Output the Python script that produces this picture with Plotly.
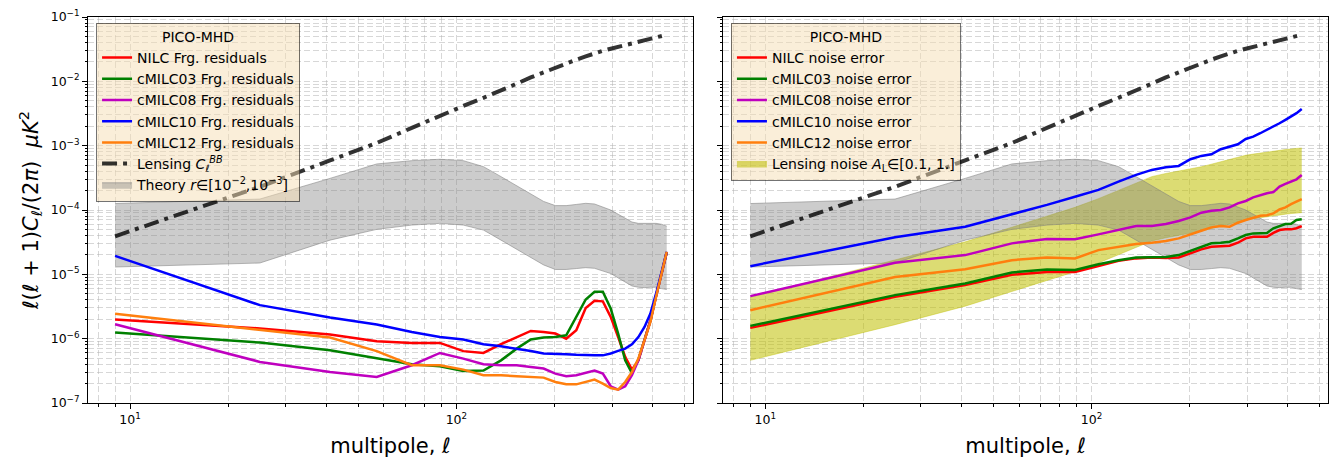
import plotly.graph_objects as go
from plotly.subplots import make_subplots

# binned multipoles
ell = [9, 25, 41, 57, 73, 89, 105, 121, 137, 153, 169, 185, 201, 217,
       233, 249, 265, 281, 297, 313, 329, 345, 361, 377, 393, 409, 425, 441]

lensing_bb = [3.9e-5, 2.3e-4, 5.9e-4, 1.1e-3, 1.89e-3, 2.84e-3, 4.14e-3, 5.55e-3, 7.16e-3, 9.18e-3,
              1.15e-2, 1.39e-2, 1.64e-2, 1.92e-2, 2.17e-2, 2.44e-2, 2.73e-2, 2.99e-2, 3.21e-2, 3.43e-2,
              3.66e-2, 3.88e-2, 4.11e-2, 4.35e-2, 4.57e-2, 4.81e-2, 5.05e-2, 5.3e-2]

# theory band r in [1e-3, 1e-2]
theory_hi = [1.26e-4, 1.48e-4, 3.1e-4, 5.2e-4, 5.85e-4, 6.15e-4, 5.85e-4, 4.72e-4, 3.3e-4, 2.39e-4,
             1.75e-4, 1.36e-4, 1.17e-4, 1.17e-4, 1.22e-4, 1.27e-4, 1.24e-4, 1.1e-4, 1.0e-4, 8.6e-5,
             7.4e-5, 6.5e-5, 6.2e-5, 6.2e-5, 6.3e-5, 6.2e-5, 6.0e-5, 5.6e-5]
theory_lo = [1.3e-5, 1.5e-5, 3.4e-5, 5.0e-5, 5.83e-5, 6.2e-5, 5.83e-5, 4.88e-5, 3.4e-5, 2.47e-5,
             1.8e-5, 1.4e-5, 1.19e-5, 1.19e-5, 1.23e-5, 1.27e-5, 1.24e-5, 1.12e-5, 1.03e-5, 8.8e-6,
             7.6e-6, 6.6e-6, 6.3e-6, 6.2e-6, 6.3e-6, 6.3e-6, 6.0e-6, 5.8e-6]

# foreground residuals (left)
nilc_fg = [1.99e-6, 1.44e-6, 1.16e-6, 9.1e-7, 8.6e-7, 8.6e-7, 6.4e-7, 6.0e-7, 8.2e-7, 1.06e-6,
           1.32e-6, 1.27e-6, 1.2e-6, 1.0e-6, 1.35e-6, 3.0e-6, 3.87e-6, 3.8e-6, 2.18e-6, 1.06e-6,
           5.2e-7, 3.3e-7, 4.6e-7, 9.5e-7, 1.9e-6, 4.6e-6, 1.03e-5, 2.2e-5]
cmilc03_fg = [1.25e-6, 8.7e-7, 6.6e-7, 4.9e-7, 4.0e-7, 3.72e-7, 3.15e-7, 3.2e-7, 4.6e-7, 7.0e-7,
              9.7e-7, 1.04e-6, 1.06e-6, 1.13e-6, 2.18e-6, 4.07e-6, 5.35e-6, 5.35e-6, 2.94e-6, 1.2e-6,
              4.6e-7, 2.9e-7, 4.7e-7, 9.5e-7, 1.9e-6, 4.6e-6, 1.03e-5, 2.2e-5]
cmilc08_fg = [1.68e-6, 4.35e-7, 3.03e-7, 2.54e-7, 3.86e-7, 6.0e-7, 4.9e-7, 4.0e-7, 3.85e-7, 3.85e-7,
              3.63e-7, 3.43e-7, 2.86e-7, 2.6e-7, 2.7e-7, 2.97e-7, 3.2e-7, 2.86e-7, 1.82e-7, 1.61e-7,
              1.82e-7, 2.7e-7, 4.6e-7, 9.5e-7, 1.9e-6, 4.6e-6, 1.03e-5, 2.2e-5]
cmilc10_fg = [1.94e-5, 3.32e-6, 2.13e-6, 1.66e-6, 1.27e-6, 1.06e-6, 9.7e-7, 8.2e-7, 7.6e-7, 7.0e-7,
              6.45e-7, 5.87e-7, 5.87e-7, 5.73e-7, 5.6e-7, 5.5e-7, 5.5e-7, 5.5e-7, 5.87e-7, 6.45e-7,
              7.0e-7, 8.2e-7, 1.06e-6, 1.52e-6, 2.46e-6, 5.0e-6, 1.03e-5, 2.24e-5]
cmilc12_fg = [2.43e-6, 1.35e-6, 1.04e-6, 6.4e-7, 3.86e-7, 3.86e-7, 3.3e-7, 2.7e-7, 2.7e-7, 2.6e-7,
              2.55e-7, 2.48e-7, 2.12e-7, 1.95e-7, 1.95e-7, 2.12e-7, 2.31e-7, 2.0e-7, 1.71e-7, 1.61e-7,
              2.12e-7, 3.03e-7, 4.9e-7, 9.5e-7, 1.82e-6, 4.47e-6, 1.03e-5, 2.24e-5]

# noise errors (right)
nilc_noise = [1.47e-6, 4.47e-6, 6.8e-6, 9.85e-6, 1.09e-5, 1.09e-5, 1.34e-5, 1.62e-5, 1.77e-5, 1.83e-5,
              1.8e-5, 1.83e-5, 2.12e-5, 2.44e-5, 2.69e-5, 2.75e-5, 2.78e-5, 3.1e-5, 3.62e-5, 3.84e-5,
              3.84e-5, 3.84e-5, 4.4e-5, 4.88e-5, 5.0e-5, 5.0e-5, 5.2e-5, 5.63e-5]
cmilc03_noise = [1.58e-6, 4.75e-6, 7.23e-6, 1.07e-5, 1.19e-5, 1.17e-5, 1.43e-5, 1.66e-5, 1.83e-5, 1.86e-5,
                 1.86e-5, 1.99e-5, 2.32e-5, 2.69e-5, 3.03e-5, 3.1e-5, 3.21e-5, 3.62e-5, 4.09e-5, 4.33e-5,
                 4.4e-5, 4.4e-5, 5.19e-5, 5.69e-5, 6.05e-5, 6.1e-5, 6.98e-5, 7.16e-5]
cmilc08_noise = [4.58e-6, 1.51e-5, 1.99e-5, 3.03e-5, 3.53e-5, 3.5e-5, 4.18e-5, 4.88e-5, 5.63e-5, 5.65e-5,
                 6.05e-5, 6.74e-5, 7.69e-5, 9.08e-5, 9.75e-5, 1.0e-4, 1.1e-4, 1.27e-4, 1.38e-4, 1.57e-4,
                 1.71e-4, 1.82e-4, 1.9e-4, 2.31e-4, 2.54e-4, 2.76e-4, 3.0e-4, 3.51e-4]
cmilc10_noise = [1.34e-5, 3.76e-5, 5.5e-5, 8.57e-5, 1.2e-4, 1.61e-4, 2.05e-4, 2.76e-4, 3.51e-4, 4.2e-4,
                 4.62e-4, 4.84e-4, 6.15e-4, 6.93e-4, 7.36e-4, 8.81e-4, 9.66e-4, 1.05e-3, 1.27e-3, 1.38e-3,
                 1.56e-3, 1.76e-3, 1.94e-3, 2.23e-3, 2.52e-3, 2.83e-3, 3.2e-3, 3.7e-3]
cmilc12_noise = [2.77e-6, 9.1e-6, 1.2e-5, 1.66e-5, 1.83e-5, 1.77e-5, 2.38e-5, 2.69e-5, 2.95e-5, 3.1e-5,
                 3.29e-5, 3.62e-5, 4.23e-5, 4.76e-5, 5.37e-5, 5.63e-5, 5.5e-5, 6.34e-5, 6.98e-5, 7.59e-5,
                 8.15e-5, 8.3e-5, 8.87e-5, 1.02e-4, 1.1e-4, 1.23e-4, 1.35e-4, 1.47e-4]

# lensing noise band A_L in [0.1, 1]
lens_noise_hi = [4.4e-6, 1.7e-5, 3.2e-5, 5.4e-5, 8.0e-5, 1.1e-4, 1.5e-4, 2.0e-4, 2.6e-4, 3.3e-4,
                 3.7e-4, 4.0e-4, 4.35e-4, 4.7e-4, 5.15e-4, 5.6e-4, 6.2e-4, 6.7e-4, 7.1e-4, 7.4e-4,
                 7.7e-4, 8.0e-4, 8.3e-4, 8.5e-4, 8.7e-4, 8.9e-4, 9.0e-4, 9.2e-4]
lens_noise_lo = [4.6e-7, 1.65e-6, 3.2e-6, 5.4e-6, 8.0e-6, 1.1e-5, 1.5e-5, 2.0e-5, 2.6e-5, 3.3e-5,
                 3.7e-5, 4.0e-5, 4.35e-5, 4.7e-5, 5.15e-5, 5.6e-5, 6.2e-5, 6.6e-5, 7.0e-5, 7.3e-5,
                 7.6e-5, 7.9e-5, 8.2e-5, 8.4e-5, 8.6e-5, 8.8e-5, 8.9e-5, 9.1e-5]

methods = ["NILC", "cMILC03", "cMILC08", "cMILC10", "cMILC12"]
colors = ["#ff0000", "#008000", "#bf00bf", "#0000ff", "#ff7f0e"]
fg_series = [nilc_fg, cmilc03_fg, cmilc08_fg, cmilc10_fg, cmilc12_fg]
noise_series = [nilc_noise, cmilc03_noise, cmilc08_noise, cmilc10_noise, cmilc12_noise]

FONT = "DejaVu Sans"
GRID = "rgba(176,176,176,0.5)"
DASHDOT = "15px,6px,4px,6px"
GRAY_FILL = "rgba(128,128,128,0.4)"
GRAY_EDGE = "rgba(128,128,128,0.55)"

fig = make_subplots(rows=1, cols=2, shared_yaxes=True, horizontal_spacing=0.0244)


def add_band(col, lo, hi, fillcolor, edge, name, legend, show, rank):
    fig.add_trace(go.Scatter(x=ell, y=lo, mode="lines", line=dict(color=edge, width=1),
                             showlegend=False, hoverinfo="skip", legend=legend), row=1, col=col)
    fig.add_trace(go.Scatter(x=ell, y=hi, mode="lines", line=dict(color=edge, width=1),
                             fill="tonexty", fillcolor=fillcolor, name=name, showlegend=show,
                             legend=legend, legendrank=rank), row=1, col=col)


# left panel: foreground residuals
add_band(1, theory_lo, theory_hi, GRAY_FILL, GRAY_EDGE,
         "Theory <i>r</i>\u2208[10<sup>\u22122</sup>,10<sup>\u22123</sup>]", "legend", True, 7)
fig.add_trace(go.Scatter(x=ell, y=lensing_bb, mode="lines",
                         name="Lensing <i>C</i><sub><i>\u2113</i></sub><sup><i>BB</i></sup>",
                         line=dict(color="rgba(0,0,0,0.8)", width=4, dash=DASHDOT),
                         legend="legend", legendrank=6), row=1, col=1)
for i, (m, c, s) in enumerate(zip(methods, colors, fg_series)):
    fig.add_trace(go.Scatter(x=ell, y=s, mode="lines", name=m + " Frg. residuals",
                             line=dict(color=c, width=2.5), legend="legend", legendrank=i + 1),
                  row=1, col=1)

# right panel: noise errors (olive band under the gray one)
add_band(2, lens_noise_lo, lens_noise_hi, "rgba(191,191,0,0.55)", "rgba(191,191,0,0.4)",
         "Lensing noise <i>A</i><sub>L</sub>\u2208[0.1, 1.]", "legend2", True, 6)
add_band(2, theory_lo, theory_hi, GRAY_FILL, GRAY_EDGE, "theory", "legend2", False, 10)
fig.add_trace(go.Scatter(x=ell, y=lensing_bb, mode="lines", showlegend=False,
                         line=dict(color="rgba(0,0,0,0.8)", width=4, dash=DASHDOT),
                         legend="legend2"), row=1, col=2)
for i, (m, c, s) in enumerate(zip(methods, colors, noise_series)):
    fig.add_trace(go.Scatter(x=ell, y=s, mode="lines", name=m + " noise error",
                             line=dict(color=c, width=2.5), legend="legend2", legendrank=i + 1),
                  row=1, col=2)

x_minor = [8, 9, 20, 30, 40, 50, 60, 70, 80, 90, 200, 300, 400, 500]
y_minor = [k * 10.0 ** e for e in range(-7, -1) for k in range(2, 10)]
y_major = [1e-7, 1e-6, 1e-5, 1e-4, 1e-3, 1e-2, 1e-1]
y_text = ["10<sup>\u2212%d</sup>" % e for e in range(7, 0, -1)]

axis_common = dict(
    showline=True, mirror=True, linecolor="black", linewidth=1,
    ticks="outside", ticklen=5, tickcolor="black", tickwidth=1,
    showgrid=True, gridcolor=GRID, griddash="6px,3px", gridwidth=1,
    zeroline=False, automargin=False,
    tickfont=dict(family=FONT, size=12.5, color="black"),
    minor=dict(ticks="outside", ticklen=2.5, tickcolor="black", showgrid=True,
               gridcolor=GRID, griddash="6px,3px", gridwidth=1),
)

for ax in ["xaxis", "xaxis2"]:
    fig.update_layout({ax: dict(
        type="log", range=[0.8713, 2.7249], tickvals=[10, 100],
        ticktext=["10<sup>1</sup>", "10<sup>2</sup>"],
        title=dict(text="multipole, \u2113", font=dict(family=FONT, size=21, color="black"), standoff=12),
        **axis_common)})
    fig.layout[ax].minor.tickvals = x_minor

fig.update_layout(
    yaxis=dict(type="log", range=[-7, -1], tickvals=y_major, ticktext=y_text,
               title=dict(text="<i>\u2113</i>(<i>\u2113</i> + 1)<i>C</i><sub><i>\u2113</i></sub>/(2<i>\u03c0</i>)"
                               "\u00a0\u00a0<i>\u03bcK</i><sup>2</sup>",
                          font=dict(family=FONT, size=21, color="black"), standoff=6),
               **axis_common),
    yaxis2=dict(type="log", range=[-7, -1], tickvals=y_major, showticklabels=False, **axis_common),
)
fig.layout.yaxis.minor.tickvals = y_minor
fig.layout.yaxis2.minor.tickvals = y_minor
fig.layout.xaxis.domain = [0, 0.4879]
fig.layout.xaxis2.domain = [0.5123, 1]

legend_style = dict(
    xanchor="left", yanchor="top", y=0.985,
    bgcolor="rgba(245,222,179,0.5)", bordercolor="rgba(0,0,0,0.55)", borderwidth=1,
    font=dict(family=FONT, size=14, color="black"),
    title=dict(text="PICO-MHD", side="top center", font=dict(family=FONT, size=14, color="black")),
    itemwidth=30, tracegroupgap=0, traceorder="normal",
)

# the page body adds an 8px offset, so the figure is 8px smaller on each axis
fig.update_layout(
    width=1333, height=462,
    margin=dict(l=80, r=13, t=9, b=67, autoexpand=False),
    paper_bgcolor="white", plot_bgcolor="white",
    font=dict(family=FONT, color="black"),
    legend=dict(x=0.0065, **legend_style),
    legend2=dict(x=0.5185, **legend_style),
)

fig.write_html("out.html")
